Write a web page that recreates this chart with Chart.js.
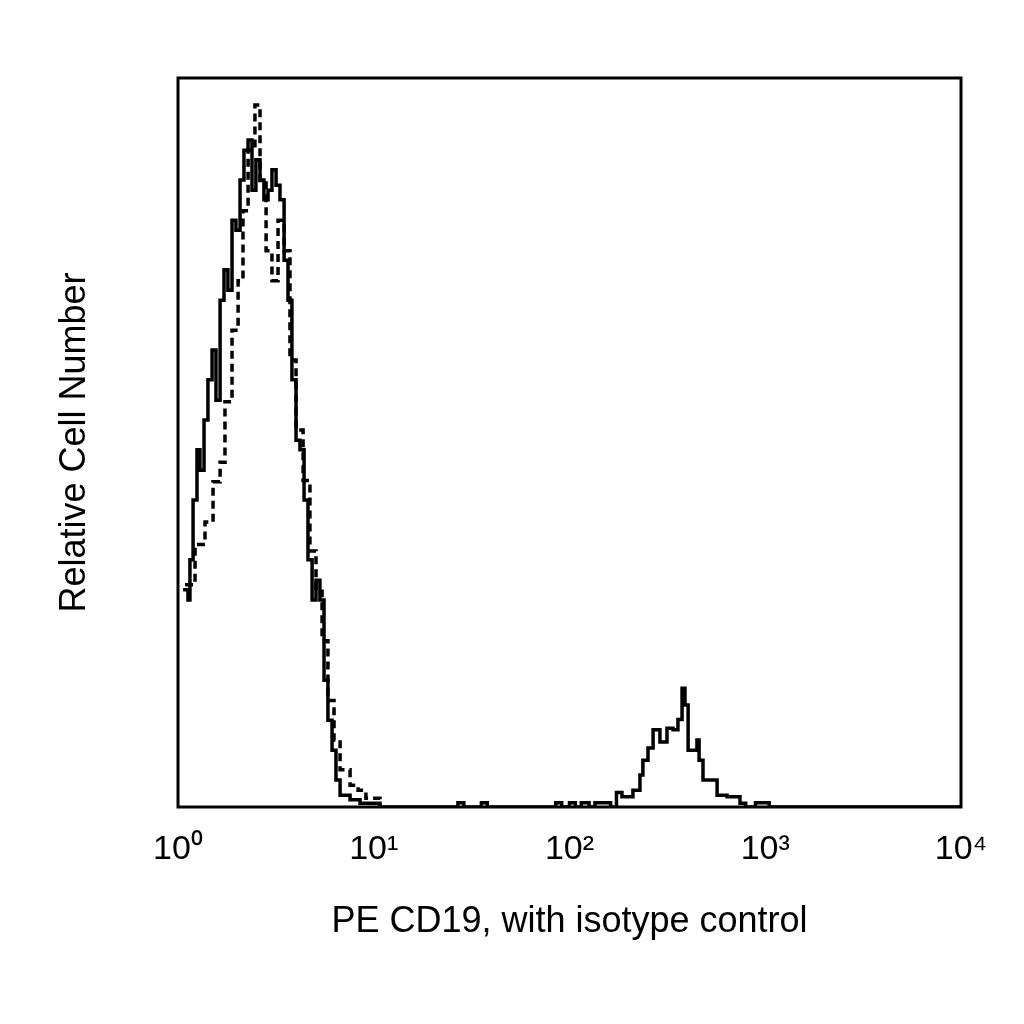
<!DOCTYPE html>
<html><head><meta charset="utf-8">
<script src="https://cdn.jsdelivr.net/npm/chart.js@4"></script>
<style>html,body{margin:0;background:#fff}#w{width:1024px;height:1024px}</style>
</head><body><div id="w"><canvas id="c"></canvas></div>
<script>
const solidX=[0.026,0.051,0.061,0.077,0.097,0.112,0.133,0.153,0.174,0.194,0.215,0.235,0.255,0.276,0.296,0.317,0.337,0.358,0.378,0.398,0.419,0.439,0.460,0.480,0.501,0.521,0.542,0.562,0.582,0.603,0.623,0.644,0.664,0.685,0.705,0.725,0.746,0.766,0.787,0.807,0.828,0.879,0.930,1.032,1.40,1.43,1.46,1.52,1.55,1.58,1.90,1.93,1.96,2.00,2.03,2.06,2.10,2.13,2.17,2.21,2.24,2.268,2.324,2.360,2.375,2.401,2.427,2.462,2.498,2.529,2.554,2.575,2.590,2.606,2.651,2.662,2.682,2.733,2.754,2.805,2.871,2.90,2.95,2.973,3.02,4.0];
const solidY=[29.8,28.4,33.9,42.1,49.0,46.2,53.1,58.6,62.7,55.8,69.5,73.7,70.9,80.5,79.1,86.0,90.1,91.5,84.6,88.8,86.0,83.3,84.6,87.4,85.3,83.3,75.0,69.5,58.6,50.3,49.0,42.1,33.9,28.4,31.1,28.4,17.4,11.9,7.8,3.7,1.6,1.0,0.5,0,0,0.6,0,0,0.6,0,0,0.6,0,0.6,0,0.6,0,0.6,0.6,0,2.0,1.4,2.3,4.4,6.4,8.1,10.6,8.9,10.8,10.6,12.0,16.3,14.0,7.8,9.2,6.4,3.7,3.7,1.6,1.4,0.5,0,0.6,0.6,0,0];
const dashX=[0.036,0.087,0.138,0.179,0.215,0.240,0.276,0.307,0.332,0.358,0.393,0.419,0.450,0.480,0.511,0.542,0.572,0.603,0.639,0.674,0.705,0.736,0.766,0.797,0.828,0.879,0.920,0.960,1.032];
const dashY=[30.5,36.0,39.1,44.6,47.3,55.6,65.4,72.2,81.8,90.1,96.3,85.6,76.3,72.2,80.5,76.3,61.3,51.7,44.8,35.1,29.6,22.8,14.6,9.2,5.1,3.0,2.3,1.2,0.1];
const tickLabels=['10⁰','10¹','10²','10³','10⁴'];
const xTitle='PE CD19, with isotype control';
const yTitle='Relative Cell Number';
const toPts=(xs,ys)=>xs.map((x,i)=>({x,y:ys[i]}));
const frame={id:'frame',afterDraw(c){const a=c.chartArea,g=c.ctx;g.save();g.strokeStyle='#000';g.lineWidth=3;g.strokeRect(a.left,a.top,a.right-a.left,a.bottom-a.top);
g.fillStyle='#000';g.font='36px "Liberation Sans"';g.textAlign='center';g.textBaseline='middle';
g.fillText(xTitle,(a.left+a.right)/2,922);
g.translate(75,(a.top+a.bottom)/2);g.rotate(-Math.PI/2);g.fillText(yTitle,0,0);g.restore();}};
new Chart(document.getElementById('c'),{type:'line',
data:{datasets:[
{data:toPts(solidX,solidY),borderColor:'#000',borderWidth:3.5,pointRadius:0,stepped:true,fill:false},
{data:toPts(dashX,dashY),borderColor:'#000',borderWidth:3.5,borderDash:[8,5],pointRadius:0,stepped:true,fill:false}]},
options:{responsive:true,maintainAspectRatio:false,animation:false,
layout:{padding:{left:0,right:63,top:78,bottom:0}},
plugins:{legend:{display:false},tooltip:{enabled:false}},
scales:{
x:{type:'linear',min:0,max:4,grid:{display:false},border:{display:false},afterFit:(s)=>{s.height=217;},
ticks:{stepSize:1,color:'#000',font:{family:'Liberation Sans',size:34},padding:14,maxRotation:0,callback:(v)=>tickLabels[v]}},
y:{min:0,max:100,grid:{display:false},border:{display:false},ticks:{display:false},afterFit:(s)=>{s.width=178;}}}},
plugins:[frame]});
</script></body></html>
